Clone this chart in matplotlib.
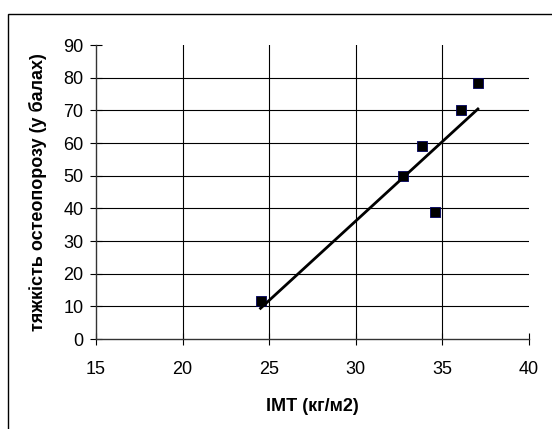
import numpy as np
import matplotlib.pyplot as plt
from matplotlib.patches import Rectangle

plt.rcParams['font.family'] = ['Liberation Sans', 'DejaVu Sans']

# BMI vs. osteoporosis severity score
bmi = [24.5, 32.7, 33.8, 34.6, 36.1, 37.05]
severity = [11.5, 50.0, 59.0, 39.0, 70.0, 78.5]

x_ticks = [15, 20, 25, 30, 35, 40]
y_ticks = [0, 10, 20, 30, 40, 50, 60, 70, 80, 90]

W, H = 552, 429
fig = plt.figure(figsize=(W / 100, H / 100), dpi=100)
ax = fig.add_axes([96 / W, 1 - 339 / H, (529 - 96) / W, (339 - 45) / H])

# chart frame (only top and left edges fall inside the canvas)
fig.add_artist(Rectangle((8 / W, -0.1), 1.2, 1 - 14 / H + 0.1,
                         transform=fig.transFigure, fill=False,
                         edgecolor='black', linewidth=1.0))

ax.set_xlim(15, 40)
ax.set_ylim(0, 90)

# gridlines at inner tick positions
for yv in y_ticks[1:-1]:
    ax.axhline(yv, color='black', linewidth=0.8, zorder=1)
for xv in x_ticks[1:-1]:
    ax.axvline(xv, color='black', linewidth=0.8, zorder=1)

ax.scatter(bmi, severity, marker='s', s=50, color='black',
           edgecolors='#000060', linewidths=0.6, zorder=3)

# linear trend line
k, b = np.polyfit(bmi, severity, 1)
xs = np.array([min(bmi), max(bmi)])
ax.plot(xs, k * xs + b, color='black', linewidth=2.0, zorder=4)

ax.set_xticks(x_ticks)
ax.set_yticks(y_ticks)
ax.tick_params(direction='inout', length=8, width=0.8, labelsize=13,
               colors='black', pad=5)
ax.tick_params(axis='x', pad=12)

for s in ['top', 'right']:
    ax.spines[s].set_visible(False)
for s in ['left', 'bottom']:
    ax.spines[s].set_color('#333333')
    ax.spines[s].set_linewidth(1.0)

ax.set_xlabel('IMT (кг/м2)', fontsize=13, fontweight='bold', labelpad=14)
ax.set_ylabel('тяжкість остеопорозу (у балах)', fontsize=13,
              fontweight='bold', labelpad=12)

fig.savefig('out.png', dpi=100)
